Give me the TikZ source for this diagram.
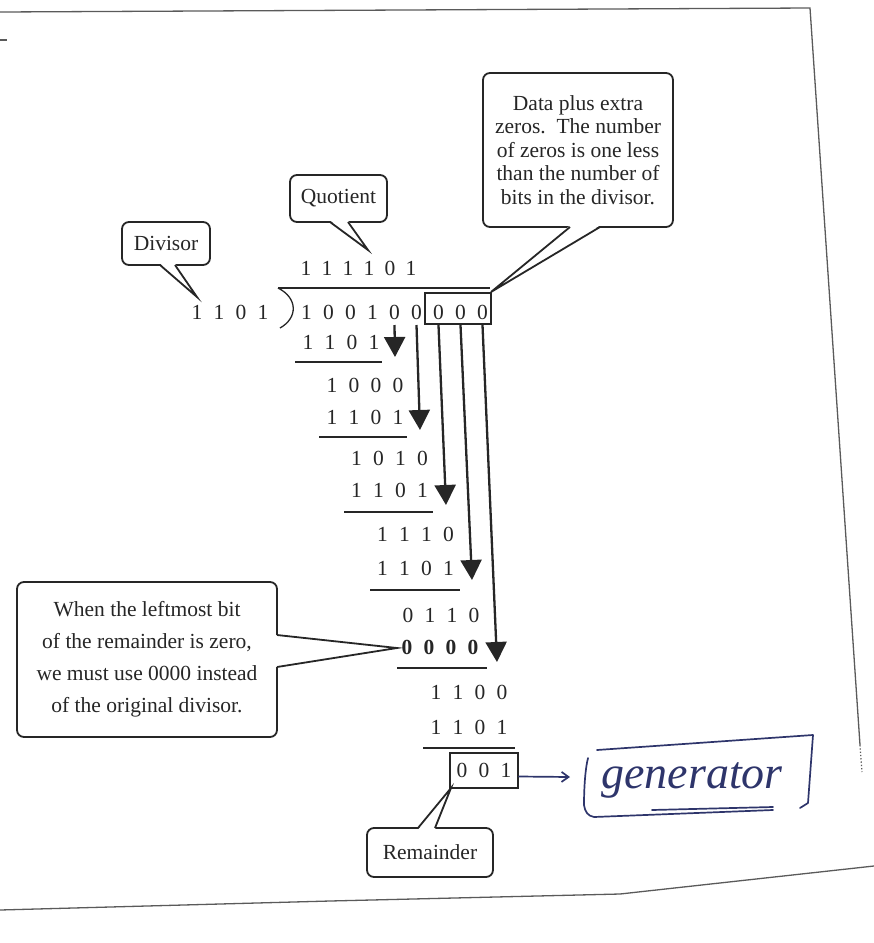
\documentclass[tikz,border=0pt]{standalone}
\usepackage{fontspec}
\setmainfont{Liberation Serif}
\usetikzlibrary{arrows.meta}
\definecolor{ink}{HTML}{262626}
\definecolor{framec}{HTML}{5A5A5A}
\definecolor{pen}{HTML}{2E356B}
\newcommand\dg[1]{\makebox[22pt]{#1}}
\newcommand\dq[1]{\makebox[21pt]{#1}}
\begin{document}
\begin{tikzpicture}[x=1pt,y=-1pt,
  every node/.style={font=\fontsize{21.5}{23.5}\selectfont, text=ink},
  digits/.style={inner sep=0pt},
  callout/.style={draw=ink, line width=1.8pt, rounded corners=7pt, fill=white, inner sep=0pt, align=center},
  tail/.style={draw=ink, line width=1.8pt, line join=miter},
  tailfill/.style={fill=white, draw=none},
  rule/.style={draw=ink, line width=1.3pt},
  bitbox/.style={draw=ink, line width=1.8pt, inner sep=0pt},
  down/.style={draw=ink, line width=2.3pt, -{Triangle[length=20pt,width=21pt]}},
  framel/.style={draw=framec, line width=1.3pt},
  hand/.style={draw=pen, line width=1.7pt, line cap=round, line join=round},
]
\useasboundingbox (0,0) rectangle (874,943);

% page frame
\draw[framel] (0,12) -- (810,8) -- (860,745);
\draw[framel, dotted] (860,745) -- (862,772);
\draw[framel] (0,910) -- (330,901) -- (620,894) -- (874,866);
\draw[framel, line width=2pt] (0,40) -- (7,40);

% division header
\node[digits] (divisor) at (230,312) {\dg1\dg1\dg0\dg1};
\node[digits] (quot) at (358.5,268) {\dq1\dq1\dq1\dq1\dq0\dq1};
\node[digits] (dividend) at (394.5,312) {\dg1\dg0\dg0\dg1\dg0\dg0\dg0\dg0\dg0};
\node[bitbox, minimum width=66pt, minimum height=31pt] (zeros) at (458,308.5) {};
\coordinate (barL) at (278,288);
\coordinate (barR) at (490,288);
\coordinate (parB) at (280,328);
\draw[rule] (barL) -- (barR);
\draw[rule] (barL) .. controls (298,298) and (298,318) .. (parB);

% rows
\node[digits] (rA) at (341,342) {\dg1\dg1\dg0\dg1};
\node[digits] (rB) at (365,385) {\dg1\dg0\dg0\dg0};
\node[digits] (rC) at (365,417) {\dg1\dg1\dg0\dg1};
\node[digits] (rD) at (389.5,458) {\dg1\dg0\dg1\dg0};
\node[digits] (rE) at (389.5,490) {\dg1\dg1\dg0\dg1};
\node[digits] (rF) at (415.5,534) {\dg1\dg1\dg1\dg0};
\node[digits] (rG) at (415.5,568) {\dg1\dg1\dg0\dg1};
\node[digits] (rH) at (441,615) {\dg0\dg1\dg1\dg0};
\node[digits, font=\fontsize{21.5}{23.5}\selectfont\bfseries] (rI) at (440,647) {\dg0\dg0\dg0\dg0};
\node[digits] (rJ) at (469,692) {\dg1\dg1\dg0\dg0};
\node[digits] (rK) at (469,727) {\dg1\dg1\dg0\dg1};
\node[bitbox, minimum width=68pt, minimum height=35pt] (rem) at (484,770.5) {\dg0\dg0\dg1};

% subtraction rules
\draw[rule] (295,362) -- (382,362);
\draw[rule] (319,437) -- (407,437);
\draw[rule] (344,512) -- (433,512);
\draw[rule] (370,590) -- (460,590);
\draw[rule] (397,668) -- (487,668);
\draw[rule] (423,748) -- (515,748);

% bring-down arrows
\coordinate (s1) at (394.5,325); \coordinate (t1) at (395,357);
\coordinate (s2) at (416.5,325); \coordinate (t2) at (420,430);
\coordinate (s3) at (438.5,325); \coordinate (t3) at (446,505);
\coordinate (s4) at (460.5,325); \coordinate (t4) at (472,580);
\coordinate (s5) at (482.5,325); \coordinate (t5) at (497,662);
\draw[down] (s1) -- (t1);
\draw[down] (s2) -- (t2);
\draw[down] (s3) -- (t3);
\draw[down] (s4) -- (t4);
\draw[down] (s5) -- (t5);

% callouts
\node[callout, minimum width=88pt, minimum height=43pt] (divlab) at (166,243.5) {Divisor};
\coordinate (divtip) at (197,297);
\fill[tailfill] (160,263.5) -- (divtip) -- (175,263.5) -- cycle;
\draw[tail] (160,265) -- (divtip) -- (175,265);

\node[callout, minimum width=97pt, minimum height=47pt] (quolab) at (338.5,198.5) {Quotient};
\coordinate (quotip) at (368,250);
\fill[tailfill] (330,220.5) -- (quotip) -- (348,220.5) -- cycle;
\draw[tail] (330,222) -- (quotip) -- (348,222);

\node[callout, minimum width=190pt, minimum height=154pt] (datalab) at (578,150) {Data plus extra\\zeros.\ \ The number\\of zeros is one less\\than the number of\\bits in the divisor.};
\coordinate (datatip) at (491,292);
\fill[tailfill] (570,225.5) -- (datatip) -- (600,225.5) -- cycle;
\draw[tail] (570,227) -- (datatip) -- (600,227);

\node[callout, minimum width=260pt, minimum height=155pt, font=\fontsize{21.5}{32}\selectfont] (leadlab) at (147,659.5) {When the leftmost bit\\of the remainder is zero,\\we must use 0000 instead\\of the original divisor.};
\coordinate (leadtip) at (397,648);
\fill[tailfill] (275.5,635) -- (leadtip) -- (275.5,667) -- cycle;
\draw[tail] (277,635) -- (leadtip) -- (277,667);

\node[callout, minimum width=126pt, minimum height=49pt] (remlab) at (430,852.5) {Remainder};
\coordinate (remtip) at (451,788);
\fill[tailfill] (418,829.5) -- (remtip) -- (435,829.5) -- cycle;
\draw[tail] (418,828) -- (remtip) -- (435,828);

% handwritten note
\coordinate (genin) at (570,777);
\draw[hand, -{Straight Barb[length=7pt,width=10pt]}] ([yshift=-6pt]rem.east) -- (genin);
\draw[hand] (588,758) .. controls (585,770) and (584,790) .. (584,805) .. controls (585,812) and (588,816) .. (594,817) -- (773,810);
\draw[hand] (597,750) -- (813,735) -- (808,803) -- (800,808);
\draw[hand] (652,810) -- (773,807);
\node[text=pen, font=\fontsize{46}{46}\selectfont\itshape, anchor=base, inner sep=0pt] (gen) at (692,788) {generator};
\end{tikzpicture}
\end{document}
